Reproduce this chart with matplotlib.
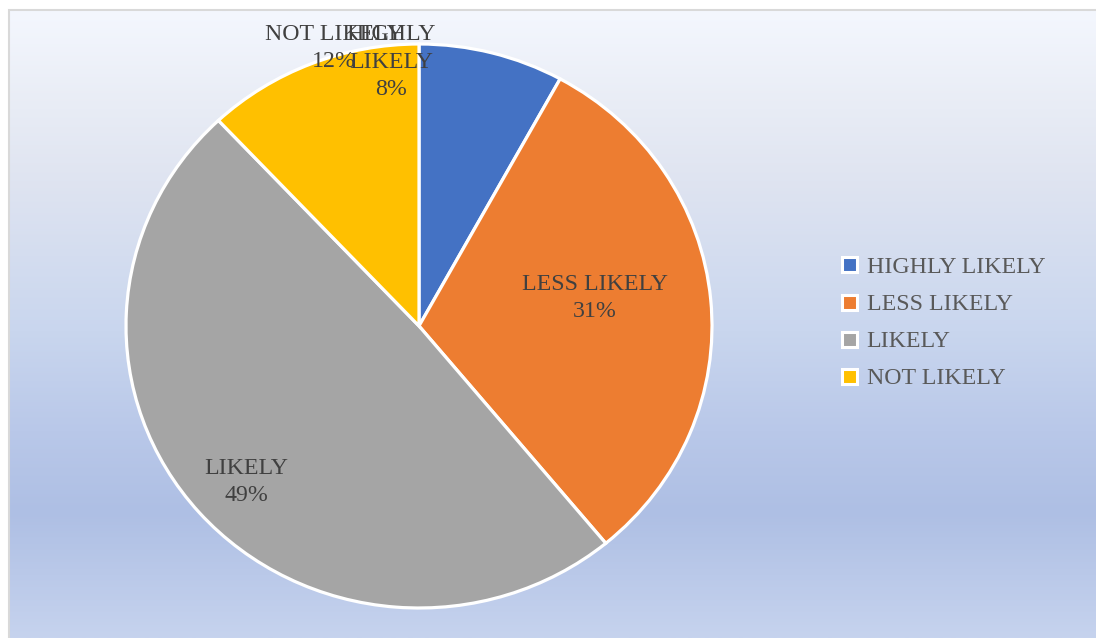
import numpy as np
import matplotlib.pyplot as plt
from matplotlib.lines import Line2D
from matplotlib.patches import Rectangle

plt.rcParams['font.family'] = ['Liberation Serif', 'DejaVu Serif']

categories = ['HIGHLY LIKELY', 'LESS LIKELY', 'LIKELY', 'NOT LIKELY']
shares = [8, 31, 49, 12]
colors = ['#4472C4', '#ED7D31', '#A5A5A5', '#FFC000']

# where each data label block sits (pie data coords, radius 1)
label_xy = [(-0.095, 0.935), (0.601, 0.099), (-0.590, -0.553), (-0.290, 0.986)]

W, H = 1096, 638
fig = plt.figure(figsize=(W / 100, H / 100), dpi=100, facecolor='white')

# chart area background: vertical blue gradient
bg = fig.add_axes([10 / W, 0, (W - 10) / W, (H - 11) / H])
bg.axis('off')
stops = [0.0, 0.156, 0.27, 0.51, 0.67, 0.80, 1.0]
stop_cols = ['#f4f7fe', '#e8ecf5', '#dfe4f1', '#c9d6ee', '#b9c8e9', '#aebfe4', '#c6d3ee']
rgb = np.array([[int(c[i:i + 2], 16) / 255 for i in (1, 3, 5)] for c in stop_cols])
t = np.linspace(0, 1, 400)
grad = np.stack([np.interp(t, stops, rgb[:, k]) for k in range(3)], axis=-1)
bg.imshow(grad[:, None, :], aspect='auto', extent=(0, 1, 0, 1))
bg.set_xlim(0, 1)
bg.set_ylim(0, 1)

# thin grey frame round the chart area
fig.patches.append(Rectangle((9 / W, -0.1), 1.2, (H - 10) / H + 0.1, fill=False,
                             edgecolor='#d9d9d9', lw=1.5, transform=fig.transFigure))

ax = fig.add_axes([126 / W, 30 / H, 586 / W, 564 / H])
wedges, _ = ax.pie(shares, colors=colors, startangle=90, counterclock=False,
                   wedgeprops=dict(edgecolor='white', linewidth=2.3, clip_on=False))
ax.set_aspect('auto')
ax.set_xlim(-1, 1)
ax.set_ylim(-1, 1)
ax.axis('off')

for name, val, (x, y) in zip(categories, shares, label_xy):
    txt = name.replace('HIGHLY ', 'HIGHLY\n') + f'\n{val}%'
    ax.text(x, y, txt, ha='center', va='center', fontsize=17.2,
            color='#404040', linespacing=1.4)

handles = [Line2D([], [], marker='s', linestyle='none', markerfacecolor=c,
                  markeredgecolor='white', markersize=10.8, markeredgewidth=2.2)
           for c in colors]
fig.legend(handles, categories, loc='upper left', bbox_to_anchor=(837.5 / W, 1 - 256 / H),
           frameon=False, fontsize=17.2, labelcolor='#595959', handlelength=1.0,
           handletextpad=0.22, labelspacing=0.65, borderpad=0, borderaxespad=0)

fig.savefig('out.png', dpi=100)
